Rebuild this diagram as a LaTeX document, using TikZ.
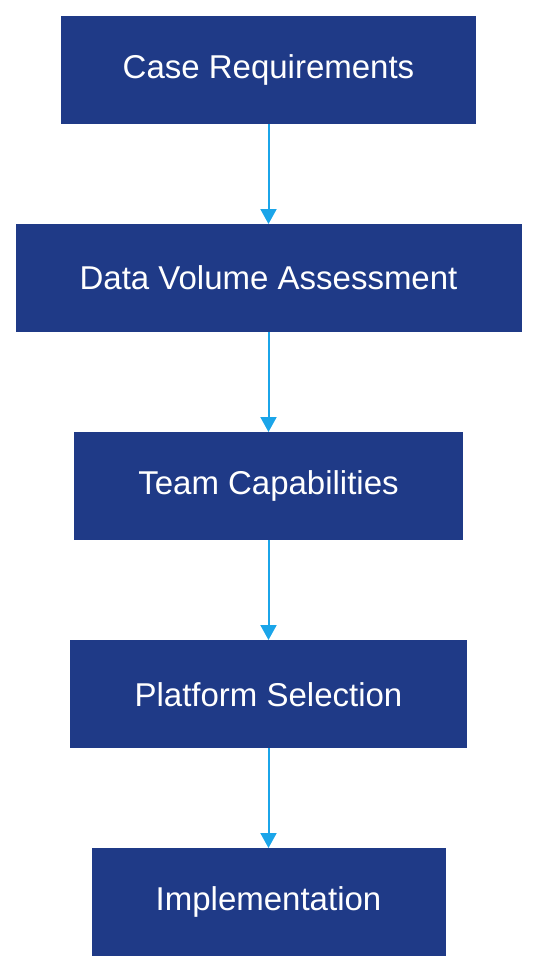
\documentclass[tikz,border=0pt]{standalone}
\usepackage{fontspec}
\setmainfont{Liberation Sans}
\usetikzlibrary{arrows.meta}
\definecolor{boxblue}{HTML}{1F3A87}
\definecolor{arrowblue}{HTML}{1BA5E9}
\begin{document}
\begin{tikzpicture}[x=1pt,y=-1pt,
  stepbox/.style={fill=boxblue, draw=none, text=white, minimum height=108pt, inner sep=0pt,
    font=\fontsize{33}{38}\selectfont, anchor=north},
  conn/.style={draw=arrowblue, line width=2pt, -{Triangle[length=15pt,width=16pt]}}]
\useasboundingbox (0,0) rectangle (538,972);
\node[stepbox, minimum width=415pt] (a) at (268.5,16) {Case Requirements};
\node[stepbox, minimum width=506pt] (b) at (268.5,224) {Data Volume Assessment};
\node[stepbox, minimum width=389pt] (c) at (268.5,432) {Team Capabilities};
\node[stepbox, minimum width=397pt] (d) at (268.5,640) {Platform Selection};
\node[stepbox, minimum width=354pt] (e) at (268.5,848) {Implementation};
\draw[conn] (a) -- (b);
\draw[conn] (b) -- (c);
\draw[conn] (c) -- (d);
\draw[conn] (d) -- (e);
\end{tikzpicture}
\end{document}
